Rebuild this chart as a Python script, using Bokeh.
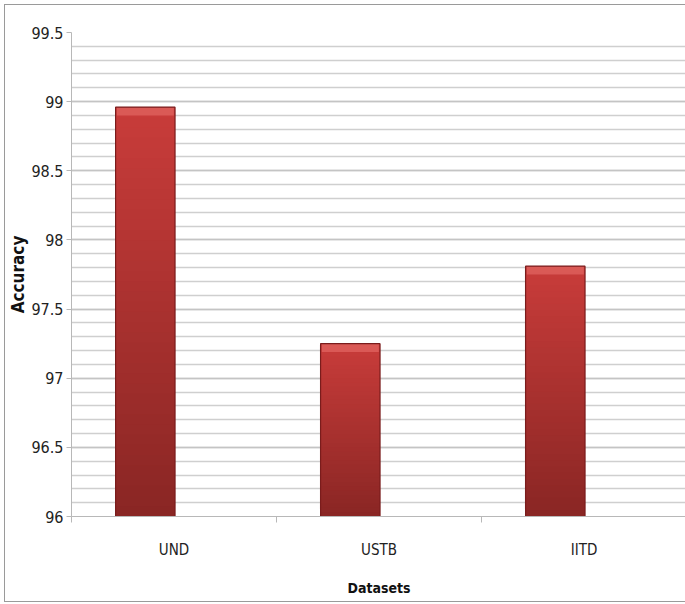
from bokeh.plotting import figure
from bokeh.models import Range1d, SingleIntervalTicker, FixedTicker, LinearAxis, Grid
from bokeh.embed import file_html
from bokeh.resources import INLINE

# Classification accuracy per dataset
datasets = ["UND", "USTB", "IITD"]
accuracy = [98.96, 97.25, 97.81]

y_min, y_max = 96.0, 99.5
bar_width = 0.29
bar_shift = -0.14   # bars sit left of the category centre
FONT = "DejaVu Sans Condensed"

p = figure(width=681, height=598, output_backend="svg", toolbar_location=None,
           x_range=Range1d(0, len(datasets)), y_range=Range1d(y_min, y_max),
           x_axis_type=None, y_axis_type=None,
           min_border_left=64, min_border_right=0, min_border_top=27, min_border_bottom=87)
p.margin = (4, 0, 0, 4)
p.styles = {"border": "1.5px solid #9a9a9a", "border-right": "none", "box-sizing": "border-box"}
p.outline_line_color = None
p.background_fill_color = "white"
p.border_fill_color = "white"

# y axis with major ticks every 0.5, grid every 0.1
yticker = SingleIntervalTicker(interval=0.5, num_minor_ticks=5)
yaxis = LinearAxis(ticker=yticker)
yaxis.axis_line_color = "#b8b8b8"
yaxis.major_tick_line_color = "#b8b8b8"
yaxis.major_tick_out = 5
yaxis.major_tick_in = 0
yaxis.minor_tick_line_color = None
yaxis.major_label_text_font = FONT
yaxis.major_label_text_font_size = "16px"
yaxis.major_label_text_color = "#222222"
yaxis.major_label_standoff = 3
yaxis.axis_label = "Accuracy"
yaxis.axis_label_text_font = FONT
yaxis.axis_label_text_font_size = "17px"
yaxis.axis_label_text_font_style = "bold"
yaxis.axis_label_text_color = "#111111"
yaxis.axis_label_standoff = 0
p.add_layout(yaxis, "left")

# x axis: labels at category centres, tick marks at category boundaries
centers = [i + 0.5 for i in range(len(datasets))]
xaxis = LinearAxis(ticker=FixedTicker(ticks=centers, minor_ticks=list(range(len(datasets) + 1))))
xaxis.major_label_overrides = {c: name for c, name in zip(centers, datasets)}
xaxis.axis_line_color = "#b8b8b8"
xaxis.major_tick_line_color = None
xaxis.minor_tick_line_color = "#b8b8b8"
xaxis.minor_tick_out = 6
xaxis.minor_tick_in = 0
xaxis.major_label_text_font = FONT
xaxis.major_label_text_font_size = "15px"
xaxis.major_label_text_color = "#222222"
xaxis.major_label_standoff = 18
xaxis.axis_label = "Datasets"
xaxis.axis_label_text_font = FONT
xaxis.axis_label_text_font_size = "14px"
xaxis.axis_label_text_font_style = "bold"
xaxis.axis_label_text_color = "#111111"
xaxis.axis_label_standoff = 18
p.add_layout(xaxis, "below")

ygrid = Grid(dimension=1, ticker=yticker)
ygrid.grid_line_color = "#c4c4c4"
ygrid.grid_line_width = 1.5
ygrid.minor_grid_line_color = "#cfcfcf"
ygrid.minor_grid_line_width = 1.5
p.add_layout(ygrid)


def mix(c1, c2, t):
    return "#%02x%02x%02x" % tuple(int(round(a + (b - a) * t)) for a, b in zip(c1, c2))


# Bars shaded from a lighter red at the top to a deeper red at the base
top_rgb, bottom_rgb = (200, 60, 58), (138, 38, 36)
n_slices = 40
for c, v in zip(centers, accuracy):
    x = c + bar_shift
    step = (v - y_min) / n_slices
    bottoms = [y_min + k * step for k in range(n_slices)]
    tops = [min(b + step * 2.5, v) for b in bottoms]
    colors = [mix(bottom_rgb, top_rgb, k / (n_slices - 1)) for k in range(n_slices)]
    p.vbar(x=[x] * n_slices, bottom=bottoms, top=tops, width=bar_width,
           fill_color=colors, line_color=None)
    # bevelled highlight along the top edge
    p.vbar(x=[x], bottom=[v - 0.06], top=[v], width=bar_width * 0.96,
           fill_color="#e06460", fill_alpha=0.75, line_color=None)
    p.vbar(x=[x], bottom=[y_min], top=[v], width=bar_width,
           fill_color=None, line_color="#7a1c1c", line_width=1.2)

open("out.html", "w").write(file_html(p, INLINE))
